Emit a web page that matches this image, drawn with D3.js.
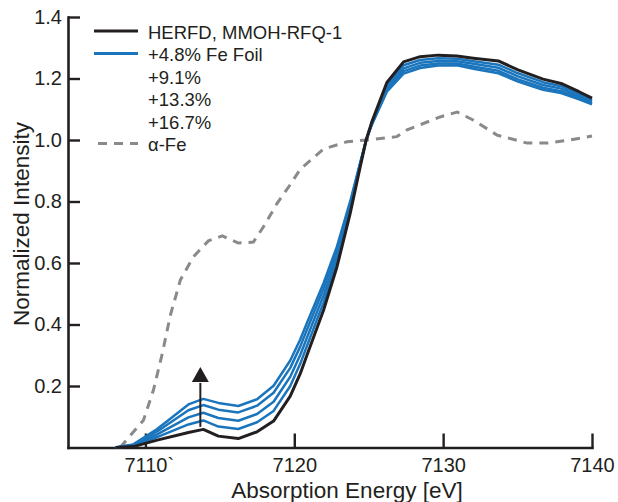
<!DOCTYPE html>
<html>
<head>
<meta charset="utf-8">
<script src="https://cdn.jsdelivr.net/npm/d3@7"></script>
<style>
  body { margin: 0; background: #fff; }
  text { font-family: "Liberation Sans", Arial, Helvetica, sans-serif; fill: #231f20; }
</style>
</head>
<body>
<svg id="chart" width="618" height="502"></svg>
<script>
// Fe K-edge HERFD spectrum of MMOH-RFQ-1 with increasing Fe-foil admixture
const energy = [7108.0, 7109.19, 7110.79, 7112.89, 7113.89, 7114.90, 7116.24, 7117.50, 7118.61, 7119.73,
                7120.40, 7120.85, 7121.97, 7122.87, 7123.76, 7124.43, 7124.83, 7125.21, 7126.22, 7127.34,
                7128.46, 7129.66, 7130.92, 7132.03, 7133.71, 7135.03, 7136.71, 7137.92, 7139.13, 7140.0];

const herfd   = [0, 0.003, 0.024, 0.049, 0.059, 0.037, 0.029, 0.051, 0.086, 0.167,
                 0.240, 0.300, 0.447, 0.588, 0.762, 0.913, 1.000, 1.059, 1.187, 1.254,
                 1.271, 1.276, 1.273, 1.266, 1.257, 1.228, 1.198, 1.184, 1.157, 1.136];

const foil4p8  = [0, 0.005, 0.034, 0.075, 0.088, 0.068, 0.060, 0.082, 0.119, 0.200,
                  0.272, 0.330, 0.472, 0.607, 0.773, 0.917, 1.000, 1.056, 1.178, 1.243,
                  1.260, 1.266, 1.264, 1.256, 1.245, 1.217, 1.188, 1.175, 1.150, 1.130];

const foil9p1  = [0, 0.007, 0.043, 0.098, 0.113, 0.096, 0.087, 0.109, 0.149, 0.230,
                  0.301, 0.357, 0.495, 0.624, 0.783, 0.921, 1.000, 1.054, 1.171, 1.233,
                  1.251, 1.257, 1.256, 1.248, 1.235, 1.207, 1.179, 1.167, 1.143, 1.125];

const foil13p3 = [0, 0.009, 0.052, 0.121, 0.138, 0.123, 0.114, 0.136, 0.178, 0.259,
                  0.328, 0.383, 0.517, 0.641, 0.793, 0.924, 1.000, 1.051, 1.163, 1.224,
                  1.242, 1.249, 1.249, 1.239, 1.225, 1.197, 1.170, 1.159, 1.137, 1.120];

const foil16p7 = [0, 0.010, 0.060, 0.140, 0.158, 0.145, 0.135, 0.157, 0.201, 0.283,
                  0.351, 0.405, 0.535, 0.654, 0.801, 0.927, 1.000, 1.050, 1.157, 1.216,
                  1.234, 1.242, 1.243, 1.232, 1.217, 1.190, 1.163, 1.153, 1.132, 1.116];

// alpha-Fe reference foil
const alphaFeEnergy = [7108.3, 7109.87, 7110.54, 7111.14, 7111.68, 7112.35, 7113.22, 7114.23, 7115.17, 7116.24,
                       7117.25, 7117.92, 7118.86, 7119.73, 7120.40, 7121.97, 7123.54, 7124.83, 7126.89, 7127.58,
                       7129.80, 7130.94, 7132.01, 7133.62, 7135.64, 7136.98, 7138.5, 7140.0];
const alphaFe = [0, 0.089, 0.187, 0.307, 0.431, 0.545, 0.620, 0.672, 0.688, 0.665,
                 0.668, 0.717, 0.795, 0.855, 0.905, 0.971, 0.994, 1.000, 1.011, 1.033,
                 1.075, 1.091, 1.065, 1.016, 0.990, 0.990, 1.000, 1.013];

const xTicks = [7110, 7120, 7130, 7140];
const xTickLabels = ["7110`", "7120", "7130", "7140"];
const yTicks = [0.2, 0.4, 0.6, 0.8, 1.0, 1.2, 1.4];

const legendLabels = ["HERFD, MMOH-RFQ-1", "+4.8% Fe Foil", "+9.1%", "+13.3%", "+16.7%", "\u03b1-Fe"];

// pre-edge growth arrow (energy, start and end intensity)
const arrowEnergy = 7113.69;
const arrowFrom = 0.067;
const arrowTo = 0.262;

const BLUE = "#1b75bc";
const BLACK = "#231f20";
const GREY = "#8a8a8a";

const svg = d3.select("#chart");

const x = d3.scaleLinear().domain([7104.8, 7140]).range([68, 592]);
const y = d3.scaleLinear().domain([0, 1.4]).range([447.5, 17]);

// axes
const xAxis = d3.axisBottom(x)
  .tickValues(xTicks)
  .tickFormat((d, i) => xTickLabels[i])
  .tickSizeInner(-14).tickSizeOuter(0).tickPadding(10);

const yAxis = d3.axisLeft(y)
  .tickValues(yTicks)
  .tickFormat(d3.format(".1f"))
  .tickSizeInner(-12).tickSizeOuter(0).tickPadding(6);

const gx = svg.append("g").attr("transform", `translate(0,${y(0)})`).call(xAxis);
const gy = svg.append("g").attr("transform", `translate(${x.range()[0]},0)`).call(yAxis);

[gx, gy].forEach(g => {
  g.select(".domain").attr("stroke", BLACK).attr("stroke-width", 2.6).attr("stroke-linecap", "square");
  g.selectAll(".tick line").attr("stroke", BLACK).attr("stroke-width", 2.4);
  g.selectAll(".tick text").attr("font-size", 20).attr("font-family", null).attr("fill", BLACK);
});
gx.selectAll(".tick text").attr("dx", function () {
  return this.textContent.endsWith("`") ? "0.17em" : null;
});

// axis titles
svg.append("text")
  .attr("x", 347).attr("y", 498)
  .attr("text-anchor", "middle").attr("font-size", 22.5)
  .text("Absorption Energy [eV]");

svg.append("text")
  .attr("transform", "translate(28.5,224) rotate(-90)")
  .attr("text-anchor", "middle").attr("font-size", 22.5)
  .text("Normalized Intensity");

// curves
const line = d3.line().x(d => x(d[0])).y(d => y(d[1]));
const pairs = (xs, ys) => xs.map((e, i) => [e, ys[i]]);

svg.append("path")
  .datum(pairs(alphaFeEnergy, alphaFe))
  .attr("d", line).attr("fill", "none")
  .attr("stroke", GREY).attr("stroke-width", 3).attr("stroke-dasharray", "9,7");

[foil16p7, foil13p3, foil9p1, foil4p8].forEach(s => {
  svg.append("path")
    .datum(pairs(energy, s))
    .attr("d", line).attr("fill", "none")
    .attr("stroke", BLUE).attr("stroke-width", 2.5).attr("stroke-linejoin", "round");
});

svg.append("path")
  .datum(pairs(energy, herfd))
  .attr("d", line).attr("fill", "none")
  .attr("stroke", BLACK).attr("stroke-width", 3).attr("stroke-linejoin", "round");

// arrow
const ax = x(arrowEnergy);
const headBase = y(arrowTo) + 15;
svg.append("line")
  .attr("x1", ax).attr("x2", ax)
  .attr("y1", y(arrowFrom)).attr("y2", headBase + 1)
  .attr("stroke", BLACK).attr("stroke-width", 2);
svg.append("path")
  .attr("d", `M${ax},${y(arrowTo)} L${ax + 8.5},${headBase} L${ax - 8.5},${headBase} Z`)
  .attr("fill", BLACK);

// legend
const legendStyles = [
  { stroke: BLACK, dash: null, x1: 94 },
  { stroke: BLUE, dash: null, x1: 94 },
  null, null, null,
  { stroke: GREY, dash: "9,7", x1: 98 }
];
const legend = svg.append("g");
legendLabels.forEach((label, i) => {
  const base = 38.5 + i * 22.5;
  const st = legendStyles[i];
  if (st) {
    legend.append("line")
      .attr("x1", st.x1).attr("x2", 138)
      .attr("y1", base - 7.5).attr("y2", base - 7.5)
      .attr("stroke", st.stroke).attr("stroke-width", 3)
      .attr("stroke-dasharray", st.dash);
  }
  legend.append("text")
    .attr("x", 148).attr("y", base)
    .attr("font-size", 18.5)
    .text(label);
});
</script>
</body>
</html>
